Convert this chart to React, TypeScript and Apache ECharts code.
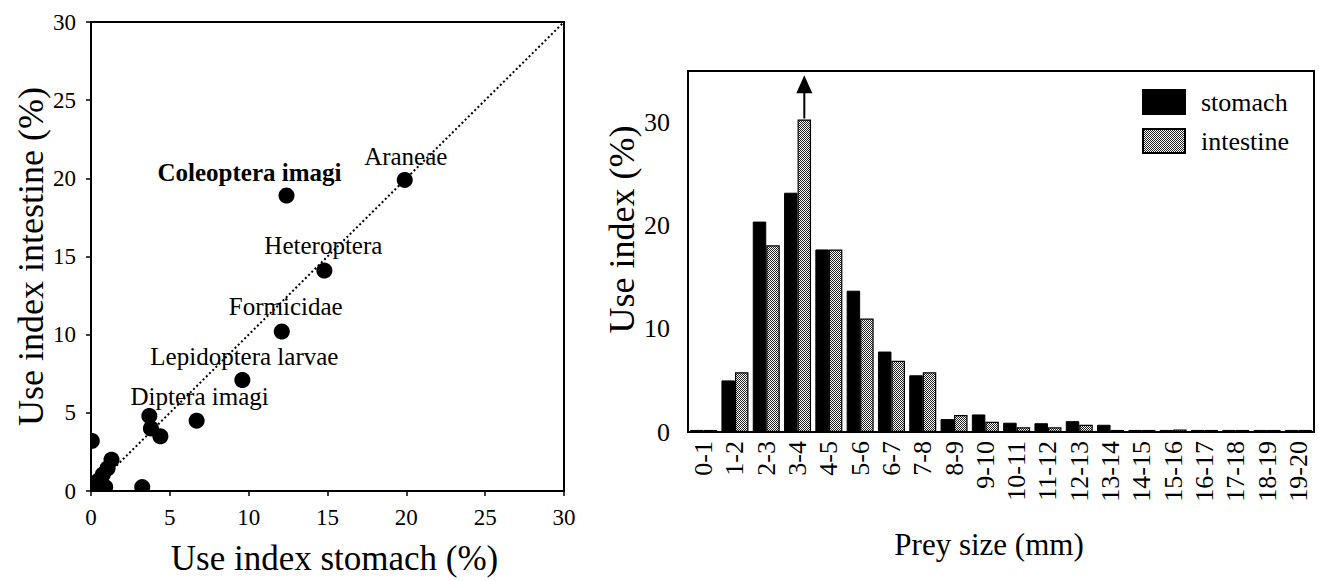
import { useEffect, useRef } from 'react';
import * as echarts from 'echarts';

// ---- Left panel: use index, stomach vs intestine, per prey taxon ----
const taxonNames = ['Araneae', 'Coleoptera imagi', 'Heteroptera', 'Formicidae', 'Lepidoptera larvae', 'Diptera imagi', '', '', '', '', '', '', '', '', '', '', '', ''];
const stomachUse = [19.9, 12.4, 14.8, 12.1, 9.6, 6.7, 3.7, 3.8, 4.4, 0.05, 1.3, 1.05, 0.75, 0.45, 0.2, 0.9, 0.3, 3.25];
const intestineUse = [19.9, 18.9, 14.1, 10.2, 7.1, 4.5, 4.8, 4.0, 3.5, 3.2, 2.0, 1.45, 1.05, 0.65, 0.3, 0.25, 0.0, 0.25];
const boldTaxa = ['Coleoptera imagi'];
const diagonalLine = [[0, 0], [30, 30]];
const scatterAxisMax = 30;
const scatterAxisStep = 5;

// ---- Right panel: use index by prey size class ----
const sizeClasses = ['0-1', '1-2', '2-3', '3-4', '4-5', '5-6', '6-7', '7-8', '8-9', '9-10', '10-11', '11-12', '12-13', '13-14', '14-15', '15-16', '16-17', '17-18', '18-19', '19-20'];
const stomachBySize = [0.2, 5.0, 20.4, 23.2, 17.7, 13.7, 7.8, 5.5, 1.25, 1.7, 0.9, 0.85, 1.05, 0.7, 0.2, 0.2, 0.2, 0.2, 0.2, 0.2];
const intestineBySize = [0.2, 5.8, 18.1, 30.3, 17.7, 11.0, 6.9, 5.8, 1.65, 1.0, 0.45, 0.45, 0.7, 0.2, 0.2, 0.25, 0.2, 0.2, 0.2, 0.2];
const arrowClass = '3-4';
const arrowFrom = 30.3;
const arrowTo = 34.6;
const barAxisMax = 35;
const barAxisStep = 10;

// ---- styling (not data) ----
const SERIF = '"Liberation Serif", "Times New Roman", serif';
const labelOffsets: Record<string, [number, number]> = {
  'Araneae': [1, -23],
  'Coleoptera imagi': [-37, -23],
  'Heteroptera': [-1, -25],
  'Formicidae': [4, -25],
  'Lepidoptera larvae': [2, -24],
  'Diptera imagi': [3, -24],
};
const BAR_W = 13.5;
const DOT_R = 8;

function makePattern() {
  const cv = document.createElement('canvas');
  cv.width = 2;
  cv.height = 2;
  const ctx = cv.getContext('2d')!;
  ctx.fillStyle = '#ffffff';
  ctx.fillRect(0, 0, 2, 2);
  ctx.fillStyle = '#222222';
  ctx.fillRect(0, 0, 1, 1);
  ctx.fillRect(1, 1, 1, 1);
  return cv;
}

// circle as polygon, clamped into the plot rectangle (clips dots at the frame)
function clippedDot(cx: number, cy: number, r: number, rect: any) {
  const pts: number[][] = [];
  const n = 36;
  for (let k = 0; k < n; k++) {
    const a = (k / n) * Math.PI * 2;
    let x = cx + r * Math.cos(a);
    let y = cy + r * Math.sin(a);
    x = Math.max(rect.x, Math.min(rect.x + rect.width, x));
    y = Math.max(rect.y, Math.min(rect.y + rect.height, y));
    pts.push([x, y]);
  }
  return pts;
}

export default function App() {
  const ref = useRef<HTMLDivElement>(null);
  useEffect(() => {
    if (!ref.current) return;
    const chart = echarts.init(ref.current, undefined, { renderer: 'svg' });
    const pattern = makePattern();
    const axisText = { color: '#000', fontFamily: SERIF };

    const option: any = {
      animation: false,
      backgroundColor: '#fff',
      textStyle: { fontFamily: SERIF, color: '#000' },
      grid: [
        { left: 91, top: 22, width: 473, height: 474, show: true, borderColor: '#000', borderWidth: 2, containLabel: false },
        { left: 688, top: 71, width: 626, height: 361, show: true, borderColor: '#000', borderWidth: 2, containLabel: false },
      ],
      legend: {
        data: ['stomach', 'intestine'],
        orient: 'vertical',
        left: 1142,
        top: 89,
        padding: 0,
        itemWidth: 42,
        itemHeight: 24,
        itemGap: 13,
        icon: 'rect',
        textStyle: { fontSize: 26, fontFamily: SERIF, color: '#000', padding: [0, 0, 0, 11] },
      },
      xAxis: [
        {
          type: 'value', gridIndex: 0, min: 0, max: scatterAxisMax, interval: scatterAxisStep,
          axisLine: { lineStyle: { color: '#000', width: 2 } },
          axisTick: { length: 5, lineStyle: { color: '#000', width: 1.5 } },
          axisLabel: { ...axisText, fontSize: 23, margin: 15 },
          splitLine: { show: false },
          name: 'Use index stomach (%)', nameLocation: 'middle', nameGap: 50,
          nameTextStyle: { ...axisText, fontSize: 35, padding: [0, 0, 0, 14] },
        },
        {
          type: 'category', gridIndex: 1, data: sizeClasses,
          axisLine: { lineStyle: { color: '#000', width: 2 } },
          axisTick: { alignWithLabel: true, interval: (i: number) => i % 5 === 4, length: 6, lineStyle: { color: '#000', width: 1.5 } },
          axisLabel: { ...axisText, fontSize: 26, rotate: 90, interval: 0, margin: 9 },
          name: 'Prey size (mm)', nameLocation: 'middle', nameGap: 97,
          nameTextStyle: { ...axisText, fontSize: 31, padding: [0, 24, 0, 0] },
        },
      ],
      yAxis: [
        {
          type: 'value', gridIndex: 0, min: 0, max: scatterAxisMax, interval: scatterAxisStep,
          axisLine: { lineStyle: { color: '#000', width: 2 } },
          axisTick: { length: 5, lineStyle: { color: '#000', width: 1.5 } },
          axisLabel: { ...axisText, fontSize: 23, margin: 15 },
          splitLine: { show: false },
          name: 'Use index intestine (%)', nameLocation: 'middle', nameGap: 42,
          nameTextStyle: { ...axisText, fontSize: 36 },
        },
        {
          type: 'value', gridIndex: 1, min: 0, max: barAxisMax, interval: barAxisStep,
          axisLine: { lineStyle: { color: '#000', width: 2 } },
          axisTick: { length: 5, lineStyle: { color: '#000', width: 1.5 } },
          axisLabel: { ...axisText, fontSize: 26, margin: 18, formatter: (v: number) => (v % barAxisStep === 0 ? String(v) : '') },
          splitLine: { show: false },
          name: 'Use index (%)', nameLocation: 'middle', nameGap: 44,
          nameTextStyle: { ...axisText, fontSize: 36, padding: [0, 0, 0, 44] },
        },
      ],
      series: [
        {
          type: 'line', xAxisIndex: 0, yAxisIndex: 0, data: diagonalLine, symbol: 'none',
          lineStyle: { color: '#000', width: 2, type: [2, 2.5] }, z: 1, silent: true,
        },
        {
          type: 'custom', name: 'taxa', xAxisIndex: 0, yAxisIndex: 0, z: 3,
          data: stomachUse.map((s, i) => [s, intestineUse[i]]),
          renderItem: (params: any, api: any) => {
            const p = api.coord([api.value(0), api.value(1)]);
            const rect = params.coordSys;
            const name = taxonNames[params.dataIndex];
            const children: any[] = [
              { type: 'polygon', shape: { points: clippedDot(p[0], p[1], DOT_R, rect) }, style: { fill: '#000' } },
            ];
            if (name) {
              const off = labelOffsets[name] || [0, -24];
              children.push({
                type: 'text', x: p[0] + off[0], y: p[1] + off[1],
                style: {
                  text: name, fill: '#000', fontSize: 25, fontFamily: SERIF,
                  fontWeight: boldTaxa.includes(name) ? 'bold' : 'normal',
                  align: 'center', verticalAlign: 'middle',
                },
              });
            }
            return { type: 'group', children };
          },
        },
        {
          type: 'bar', name: 'stomach', xAxisIndex: 1, yAxisIndex: 1, data: stomachBySize,
          barWidth: BAR_W, barGap: '0%',
          itemStyle: { color: '#000', borderColor: '#000', borderWidth: 1 },
        },
        {
          type: 'bar', name: 'intestine', xAxisIndex: 1, yAxisIndex: 1, data: intestineBySize,
          barWidth: BAR_W, barGap: '0%',
          itemStyle: { color: { image: pattern, repeat: 'repeat', imageWidth: 2, imageHeight: 2 }, borderColor: '#000', borderWidth: 1.2 },
        },
        {
          type: 'custom', name: 'arrow', xAxisIndex: 1, yAxisIndex: 1, z: 4,
          data: [[arrowClass, arrowFrom, arrowTo]],
          renderItem: (params: any, api: any) => {
            const base = api.coord([api.value(0), api.value(1)]);
            const tip = api.coord([api.value(0), api.value(2)]);
            const x = base[0] + BAR_W / 2;
            return {
              type: 'group',
              children: [
                { type: 'line', shape: { x1: x, y1: base[1] - 1, x2: x, y2: tip[1] + 14 }, style: { stroke: '#000', lineWidth: 2 } },
                { type: 'polygon', shape: { points: [[x, tip[1]], [x - 8, tip[1] + 18], [x + 8, tip[1] + 18]] }, style: { fill: '#000' } },
              ],
            };
          },
        },
      ],
    };
    chart.setOption(option);
    return () => chart.dispose();
  }, []);
  return <div ref={ref} style={{ position: 'fixed', left: 0, top: 0, width: 1319, height: 581, background: '#fff' }} />;
}
